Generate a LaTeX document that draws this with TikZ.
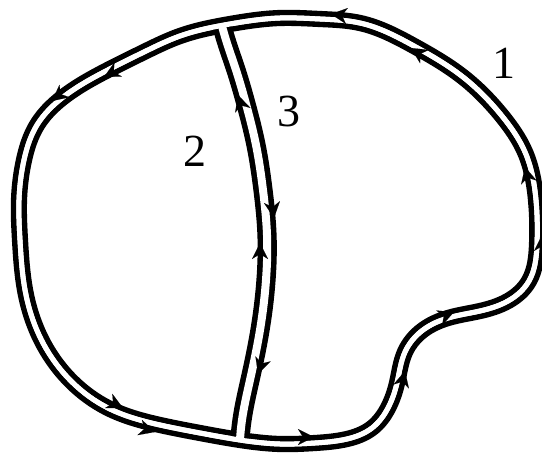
\documentclass[tikz,border=0pt]{standalone}
\usepackage{fontspec}
\setmainfont{Liberation Serif}
\usetikzlibrary{arrows.meta,hobby}
\tikzset{
  chan/.style={line width=5.6pt, double distance=5pt},
  divchan/.style={line width=5.6pt, double distance=8pt},
  core/.style={white, line width=5pt},
  arr/.style={line width=0.1pt, -{Stealth[length=16pt 0 0,width=16pt 0 0,inset=5pt 0]}},
  lab/.style={font=\fontsize{46}{46}\selectfont, inner sep=0pt}
}
\begin{document}
\begin{tikzpicture}[x=1pt,y=-1pt]
\useasboundingbox (0,0) rectangle (542,453);
\def\outerpath{plot[closed hobby] coordinates {
 (19,200) (20,240) (26,295) (43,343) (72,382) (108,408) (160,425) (200,433)
 (240,440) (280,444) (315,443) (347,439) (372,428) (388,408) (397,383) (405,352)
 (423,330) (448,318) (480,311) (508,301) (529,281) (537,245) (536,200) (525,152)
 (502,116) (463,77) (414,46) (360,23) (320,19) (280,18) (230,24) (180,36)
 (144,52) (104,72) (62,98) (37,125) (24,160)}}
% outer channel (contour 1 and the outer parts of 2 and 3)
\draw[chan] \outerpath;
% dividing channel between 2 and 3
\draw[divchan] plot[hobby] coordinates {
 (222,26) (226,40) (236,70) (246,104) (256,145) (263,190) (267,235) (266,280)
 (260,330) (250,380) (242,420) (240,440)};
% restore the white core of the outer channel
\draw[core] \outerpath;
% arrows on contour 1
\coordinate (a1s) at (347,16); \coordinate (a1e) at (331,14);
\coordinate (a2s) at (67,89);  \coordinate (a2e) at (52,101);
\coordinate (a3s) at (138,427); \coordinate (a3e) at (155,432);
\coordinate (a4s) at (401,387); \coordinate (a4e) at (405,371);
\coordinate (a5s) at (542,252); \coordinate (a5e) at (542,235);
% arrows on contour 2
\coordinate (b1s) at (121,68); \coordinate (b1e) at (104,77);
\coordinate (b2s) at (107,400); \coordinate (b2e) at (123,408);
\coordinate (b3s) at (243,111); \coordinate (b3e) at (238,95);
\coordinate (b4s) at (260,259); \coordinate (b4e) at (260,243);
% arrows on contour 3
\coordinate (c1s) at (425,57); \coordinate (c1e) at (411,48);
\coordinate (c2s) at (529,183); \coordinate (c2e) at (525,167);
\coordinate (c3s) at (439,318); \coordinate (c3e) at (454,312);
\coordinate (c4s) at (298,437); \coordinate (c4e) at (314,437);
\coordinate (c5s) at (272,202); \coordinate (c5e) at (274,218);
\coordinate (c6s) at (263,359); \coordinate (c6e) at (258,374);
\foreach \p in {a1,a2,a3,a4,a5,b1,b2,b3,b4,c1,c2,c3,c4,c5,c6}
  \draw[arr] (\p s) -- (\p e);
% labels
\node[lab] (l1) at (504,63) {1};
\node[lab] (l2) at (195,151) {2};
\node[lab] (l3) at (289,111) {3};
\end{tikzpicture}
\end{document}
